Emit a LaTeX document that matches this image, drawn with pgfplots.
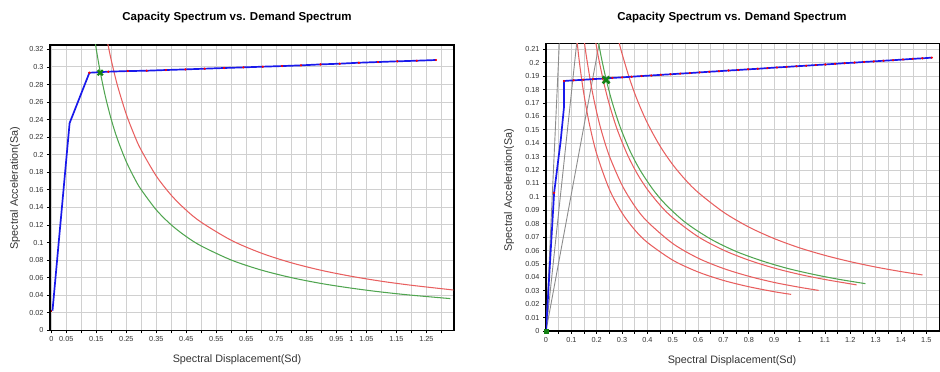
\documentclass[border=0pt]{standalone}
\usepackage{fontspec}
\setmainfont{Liberation Sans}
\usepackage{pgfplots}
\pgfplotsset{compat=1.18}
\definecolor{capblue}{RGB}{25,25,235}
\definecolor{demred}{RGB}{232,95,95}
\definecolor{demgreen}{RGB}{80,165,80}
\definecolor{gridgray}{RGB}{208,208,208}
\definecolor{xgreen}{RGB}{20,130,20}
\definecolor{perigray}{RGB}{140,140,140}
\pgfplotsset{
  spec/.style={
    scale only axis, anchor=south west,
    grid=major, grid style={gridgray, line width=1pt},
    axis line style={black, line width=1.4pt},
    tick align=outside, tick pos=left,
    major tick length=3pt, minor tick length=3pt,
    tick style={black, line width=0.8pt},
    ticklabel style={font=\fontsize{7.3}{8}\selectfont, text=black!80},
    /pgf/number format/assume math mode=true,
    scaled ticks=false,
    yticklabel style={/pgf/number format/fixed, /pgf/number format/precision=3},
    xticklabel style={/pgf/number format/fixed, /pgf/number format/precision=3},
    clip=true,
  },
  cap/.style={capblue, line width=1.7pt},
  capdot/.style={only marks, mark=*, mark size=0.9pt, color=red},
  dem/.style={demred, line width=1.05pt, smooth},
  demg/.style={demgreen, line width=1.05pt, smooth},
}
\begin{document}
\begin{tikzpicture}
\path[use as bounding box] (0,0) rectangle (940pt,372pt);
% ---------------- left chart ----------------
\begin{axis}[spec, at={(50pt,41.7pt)}, width=404pt, height=285.3pt,
  xmin=-0.0043, xmax=1.342, ymin=0, ymax=0.325,
  xtick={0,0.05,0.1,0.15,0.2,0.25,0.3,0.35,0.4,0.45,0.5,0.55,0.6,0.65,0.7,0.75,0.8,0.85,0.9,0.95,1,1.05,1.1,1.15,1.2,1.25,1.3},
  xticklabels={0,0.05,{},0.15,{},0.25,{},0.35,{},0.45,{},0.55,{},0.65,{},0.75,{},0.85,{},0.95,1,1.05,{},1.15,{},1.25,{}},
  ytick={0,0.02,0.04,0.06,0.08,0.1,0.12,0.14,0.16,0.18,0.2,0.22,0.24,0.26,0.28,0.3,0.32},
]
\addplot[dem] coordinates {(0.18,0.3417)(0.19,0.3237)(0.2,0.3075)(0.22,0.2795)(0.25,0.246)(0.28,0.2196)(0.3,0.205)(0.35,0.1757)(0.4,0.1538)(0.45,0.1367)(0.5,0.123)(0.6,0.1025)(0.7,0.0879)(0.8,0.0769)(0.9,0.0683)(1.0,0.0615)(1.1,0.0559)(1.2,0.0513)(1.34,0.0459)};
\addplot[demg] coordinates {(0.14,0.3429)(0.15,0.32)(0.163,0.2945)(0.18,0.2667)(0.2,0.24)(0.22,0.2182)(0.25,0.192)(0.28,0.1714)(0.3,0.16)(0.35,0.1371)(0.4,0.12)(0.45,0.1067)(0.5,0.096)(0.6,0.08)(0.7,0.0686)(0.8,0.06)(0.9,0.0533)(1.0,0.048)(1.1,0.0436)(1.2,0.04)(1.33,0.0361)};
\addplot[red!70!black, line width=1.6pt] coordinates {(0,0.0223)(0.004,0.0223)};
\addplot[cap] coordinates {(0.004,0.0223)(0.061,0.236)(0.127,0.2934)(0.19,0.2946)(0.255,0.2953)(0.318,0.2957)(0.382,0.2965)(0.447,0.2972)(0.511,0.298)(0.576,0.2988)(0.64,0.2995)(0.705,0.3003)(0.769,0.301)(0.832,0.3018)(0.897,0.3029)(0.961,0.3037)(1.025,0.3048)(1.089,0.3056)(1.153,0.3064)(1.218,0.3071)(1.282,0.3079)};
\addplot[capdot] coordinates {(0.127,0.2934)(0.19,0.2946)(0.255,0.2953)(0.318,0.2957)(0.382,0.2965)(0.447,0.2972)(0.511,0.298)(0.576,0.2988)(0.64,0.2995)(0.705,0.3003)(0.769,0.301)(0.832,0.3018)(0.897,0.3029)(0.961,0.3037)(1.025,0.3048)(1.089,0.3056)(1.153,0.3064)(1.218,0.3071)(1.282,0.3079)};
\addplot[only marks, mark=x, mark size=3.6pt, line width=2.2pt, color=xgreen] coordinates {(0.163,0.2934)};
\end{axis}
% ---------------- right chart ----------------
\begin{axis}[spec, at={(546pt,41pt)}, width=394pt, height=287.7pt,
  xmin=0, xmax=1.554, ymin=0, ymax=0.2145,
  xtick={0,0.1,0.2,0.3,0.4,0.5,0.6,0.7,0.8,0.9,1,1.1,1.2,1.3,1.4,1.5},
  minor x tick num=1, minor grid style={gridgray, line width=1pt}, xminorgrids=true,
  ytick={0,0.01,0.02,0.03,0.04,0.05,0.06,0.07,0.08,0.09,0.1,0.11,0.12,0.13,0.14,0.15,0.16,0.17,0.18,0.19,0.2,0.21},
]
\addplot[perigray, line width=0.9pt] coordinates {(0,0)(0.0525,0.2145)};
\addplot[perigray, line width=0.9pt] coordinates {(0,0)(0.121,0.2145)};
\addplot[perigray, line width=0.9pt] coordinates {(0,0)(0.21,0.2145)};
\addplot[dem] coordinates {(0.12,0.22)(0.13,0.2031)(0.14,0.1886)(0.15,0.176)(0.17,0.1553)(0.2,0.132)(0.25,0.1056)(0.3,0.088)(0.35,0.0754)(0.4,0.066)(0.5,0.0528)(0.6,0.044)(0.7,0.0377)(0.8,0.033)(0.9,0.0293)(0.967,0.0273)};
\addplot[dem] coordinates {(0.15,0.2173)(0.16,0.2038)(0.18,0.1811)(0.2,0.163)(0.22,0.1482)(0.25,0.1304)(0.3,0.1087)(0.35,0.0931)(0.4,0.0815)(0.5,0.0652)(0.6,0.0543)(0.7,0.0466)(0.8,0.0408)(0.9,0.0362)(1.0,0.0326)(1.075,0.0303)};
\addplot[dem] coordinates {(0.195,0.2164)(0.21,0.201)(0.23,0.1835)(0.25,0.1688)(0.28,0.1507)(0.32,0.1319)(0.36,0.1172)(0.4,0.1055)(0.45,0.0938)(0.5,0.0844)(0.6,0.0703)(0.7,0.0603)(0.8,0.0528)(0.9,0.0469)(1.0,0.0422)(1.1,0.0384)(1.225,0.0344)};
\addplot[demg] coordinates {(0.207,0.215)(0.22,0.2023)(0.237,0.1878)(0.26,0.1712)(0.29,0.1534)(0.33,0.1348)(0.37,0.1203)(0.42,0.106)(0.47,0.0947)(0.55,0.0809)(0.65,0.0685)(0.75,0.0593)(0.85,0.0524)(0.95,0.0468)(1.05,0.0424)(1.15,0.0387)(1.26,0.0353)};
\addplot[dem] coordinates {(0.288,0.2153)(0.3,0.2067)(0.33,0.1879)(0.36,0.1722)(0.4,0.155)(0.45,0.1378)(0.5,0.124)(0.55,0.1127)(0.6,0.1033)(0.7,0.0886)(0.8,0.0775)(0.9,0.0689)(1.0,0.062)(1.1,0.0564)(1.2,0.0517)(1.3,0.0477)(1.4,0.0443)(1.485,0.0418)};
\addplot[cap] coordinates {(0,0)(0.032,0.103)(0.058,0.142)(0.071,0.167)(0.071,0.1864)(0.109,0.1869)(0.147,0.1873)(0.186,0.1878)(0.224,0.1882)(0.262,0.1887)(0.3,0.1891)(0.338,0.1896)(0.377,0.1901)(0.415,0.1905)(0.453,0.191)(0.491,0.1914)(0.529,0.1919)(0.567,0.1923)(0.606,0.1928)(0.644,0.1933)(0.682,0.1937)(0.72,0.1942)(0.758,0.1946)(0.797,0.1951)(0.835,0.1955)(0.873,0.196)(0.911,0.1965)(0.949,0.1969)(0.988,0.1974)(1.026,0.1978)(1.064,0.1983)(1.102,0.1987)(1.14,0.1992)(1.178,0.1997)(1.217,0.2001)(1.255,0.2006)(1.293,0.201)(1.331,0.2015)(1.369,0.2019)(1.408,0.2024)(1.446,0.2029)(1.484,0.2033)(1.522,0.2038)};
\addplot[capdot] coordinates {(0.032,0.103)(0.071,0.1864)(0.109,0.1869)(0.147,0.1873)(0.186,0.1878)(0.224,0.1882)(0.262,0.1887)(0.3,0.1891)(0.338,0.1896)(0.377,0.1901)(0.415,0.1905)(0.453,0.191)(0.491,0.1914)(0.529,0.1919)(0.567,0.1923)(0.606,0.1928)(0.644,0.1933)(0.682,0.1937)(0.72,0.1942)(0.758,0.1946)(0.797,0.1951)(0.835,0.1955)(0.873,0.196)(0.911,0.1965)(0.949,0.1969)(0.988,0.1974)(1.026,0.1978)(1.064,0.1983)(1.102,0.1987)(1.14,0.1992)(1.178,0.1997)(1.217,0.2001)(1.255,0.2006)(1.293,0.201)(1.331,0.2015)(1.369,0.2019)(1.408,0.2024)(1.446,0.2029)(1.484,0.2033)(1.522,0.2038)};
\addplot[only marks, mark=square*, mark size=1.8pt, color=xgreen, clip=false] coordinates {(0,0)};
\addplot[only marks, mark=x, mark size=4.8pt, line width=2.6pt, color=xgreen] coordinates {(0.237,0.1872)};
\end{axis}
% ---------------- titles and labels ----------------
\node[font=\fontsize{11.5}{13}\selectfont\bfseries] at (237pt,354pt) {Capacity Spectrum vs. Demand Spectrum};
\node[font=\fontsize{10.8}{12}\selectfont, text=black!80] at (237pt,12pt) {Spectral Displacement(Sd)};
\node[font=\fontsize{10.8}{12}\selectfont, text=black!80, rotate=90] at (15pt,184pt) {Spectral Acceleration(Sa)};
\node[font=\fontsize{11.5}{13}\selectfont\bfseries] at (732pt,354pt) {Capacity Spectrum vs. Demand Spectrum};
\node[font=\fontsize{10.8}{12}\selectfont, text=black!80] at (732pt,11pt) {Spectral Displacement(Sd)};
\node[font=\fontsize{10.8}{12}\selectfont, text=black!80, rotate=90] at (509pt,182pt) {Spectral Acceleration(Sa)};
\end{tikzpicture}
\end{document}
